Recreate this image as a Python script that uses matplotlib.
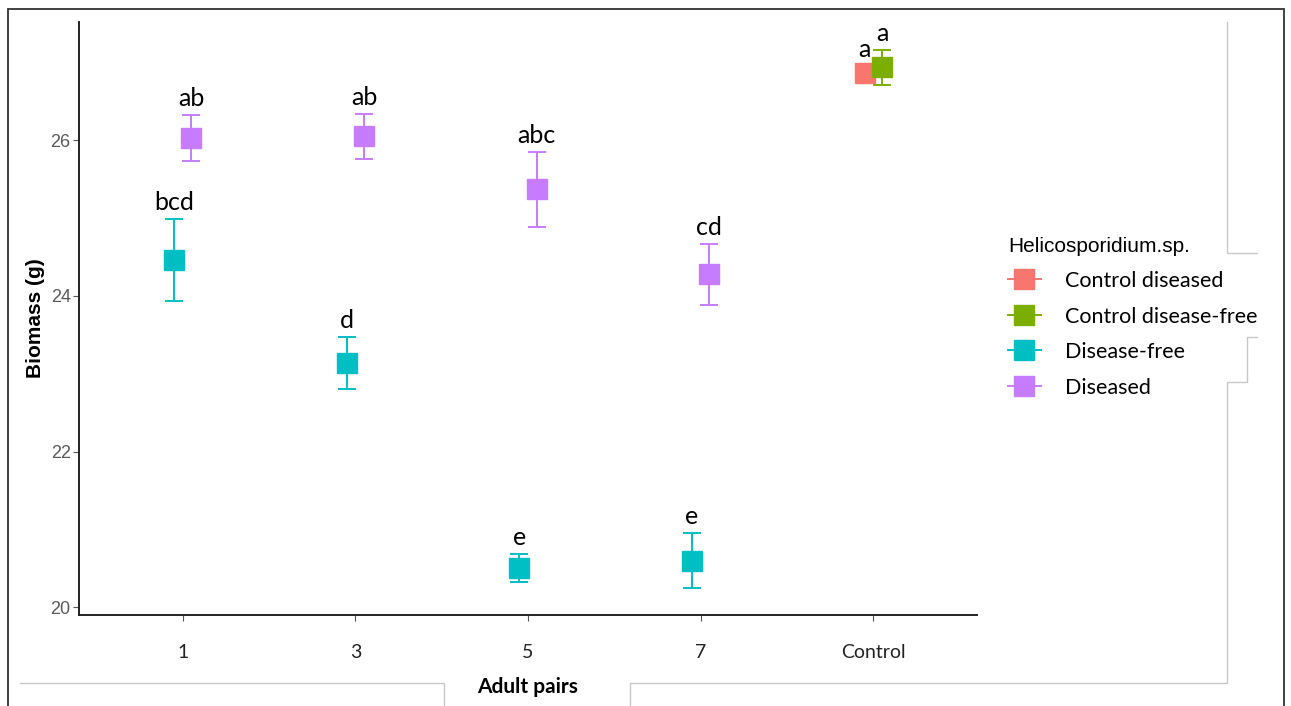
import numpy as np
import matplotlib
matplotlib.use('Agg')
import matplotlib.pyplot as plt
from matplotlib.lines import Line2D
from matplotlib.patches import Rectangle

# Biomass per number of adult pairs
grupos = ['1', '3', '5', '7', 'Control']
doente_media = [26.03, 26.05, 25.37, 24.28]
doente_erro = [0.29, 0.29, 0.48, 0.39]
doente_letras = ['ab', 'ab', 'abc', 'cd']
livre_media = [24.46, 23.14, 20.50, 20.60]
livre_erro = [0.53, 0.33, 0.18, 0.35]
livre_letras = ['bcd', 'd', 'e', 'e']
ctrl_doente = [26.86, 0.10, 'a']
ctrl_livre = [26.94, 0.225, 'a']

series = ['Control diseased', 'Control disease-free', 'Disease-free', 'Diseased']
cores = ['#F8766D', '#7CAE00', '#00BFC4', '#C77CFF']

fonte = 'Lato'
fig = plt.figure(figsize=(12.91, 7.06), dpi=100)
ax = fig.add_axes([0.0612, 0.1289, 0.6956, 0.8399])

x = np.arange(1, 5)
dx = 0.05

def pontos(xs, ys, es, cor, letras):
    ax.errorbar(xs, ys, yerr=es, fmt='s', color=cor, ecolor=cor, markersize=14,
                elinewidth=1.4, capsize=6.8, capthick=1.4, zorder=3)
    for xi, yi, ei, t in zip(xs, ys, es, letras):
        ax.annotate(t, xy=(xi, yi + ei), xytext=(0, 6.5), textcoords='offset points',
                    ha='center', va='baseline', fontsize=18, family=fonte, color='black')

pontos(x - dx, livre_media, livre_erro, cores[2], livre_letras)
pontos(x + dx, doente_media, doente_erro, cores[3], doente_letras)
pontos([5 - dx], [ctrl_doente[0]], [ctrl_doente[1]], cores[0], [ctrl_doente[2]])
pontos([5 + dx], [ctrl_livre[0]], [ctrl_livre[1]], cores[1], [ctrl_livre[2]])

ax.set_xlim(0.4, 5.6)
ax.set_ylim(19.9, 27.52)
ax.set_xticks(range(1, 6))
ax.set_xticklabels(grupos, family=fonte, fontsize=14, color='#222222')
ax.set_yticks([20, 22, 24, 26])
ax.set_yticklabels(['20', '22', '24', '26'], family='Liberation Sans', fontsize=13, color='#5a5a5a')
ax.tick_params(axis='y', length=4, color='#555555', pad=2)
ax.tick_params(axis='x', length=4, color='#555555', pad=17)
for s in ['top', 'right']:
    ax.spines[s].set_visible(False)
for s in ['left', 'bottom']:
    ax.spines[s].set_color('#222222')
    ax.spines[s].set_linewidth(1.4)

ax.set_xlabel('Adult pairs', family=fonte, fontweight='bold', fontsize=15)
ax.xaxis.set_label_coords(0.5, -0.121)
ax.xaxis.label.set_va('center')
ax.set_ylabel('Biomass (g)', family='Liberation Sans', fontweight='bold', fontsize=15)
ax.yaxis.set_label_coords(-0.049, 0.5)
ax.yaxis.label.set_va('center')

alcas = [Line2D([], [], color=c, marker='s', markersize=14, lw=1.4) for c in cores]
leg = ax.legend(alcas, series, title='Helicosporidium.sp.', loc='upper left',
                bbox_to_anchor=(0.781, 0.665), bbox_transform=fig.transFigure,
                frameon=False, alignment='left', borderpad=0, borderaxespad=0,
                handlelength=1.5, handletextpad=1.15, labelspacing=0.72,
                prop={'family': fonte, 'size': 15.5},
                title_fontproperties={'family': 'Liberation Sans', 'size': 15})

# moldura externa e linhas claras de fundo
W, H = 1291.0, 706.0
def px(pts):
    return [p[0] / W for p in pts], [1 - p[1] / H for p in pts]

fig.add_artist(Rectangle((8 / W, -0.05), (1284 - 8) / W, 1 - 9 / H + 0.05,
                         transform=fig.transFigure, fill=False, ec='#333333', lw=1.3))
linhas = [
    [(1227, 22), (1227, 253), (1257, 253)],
    [(1257, 337), (1247, 337), (1247, 382), (1227, 382), (1227, 683), (630, 683), (630, 706)],
    [(20, 683), (444, 683), (444, 706)],
]
for l in linhas:
    xs, ys = px(l)
    fig.add_artist(Line2D(xs, ys, transform=fig.transFigure, color='#c8c8c8', lw=1.0))

plt.savefig('out.png', dpi=100)
